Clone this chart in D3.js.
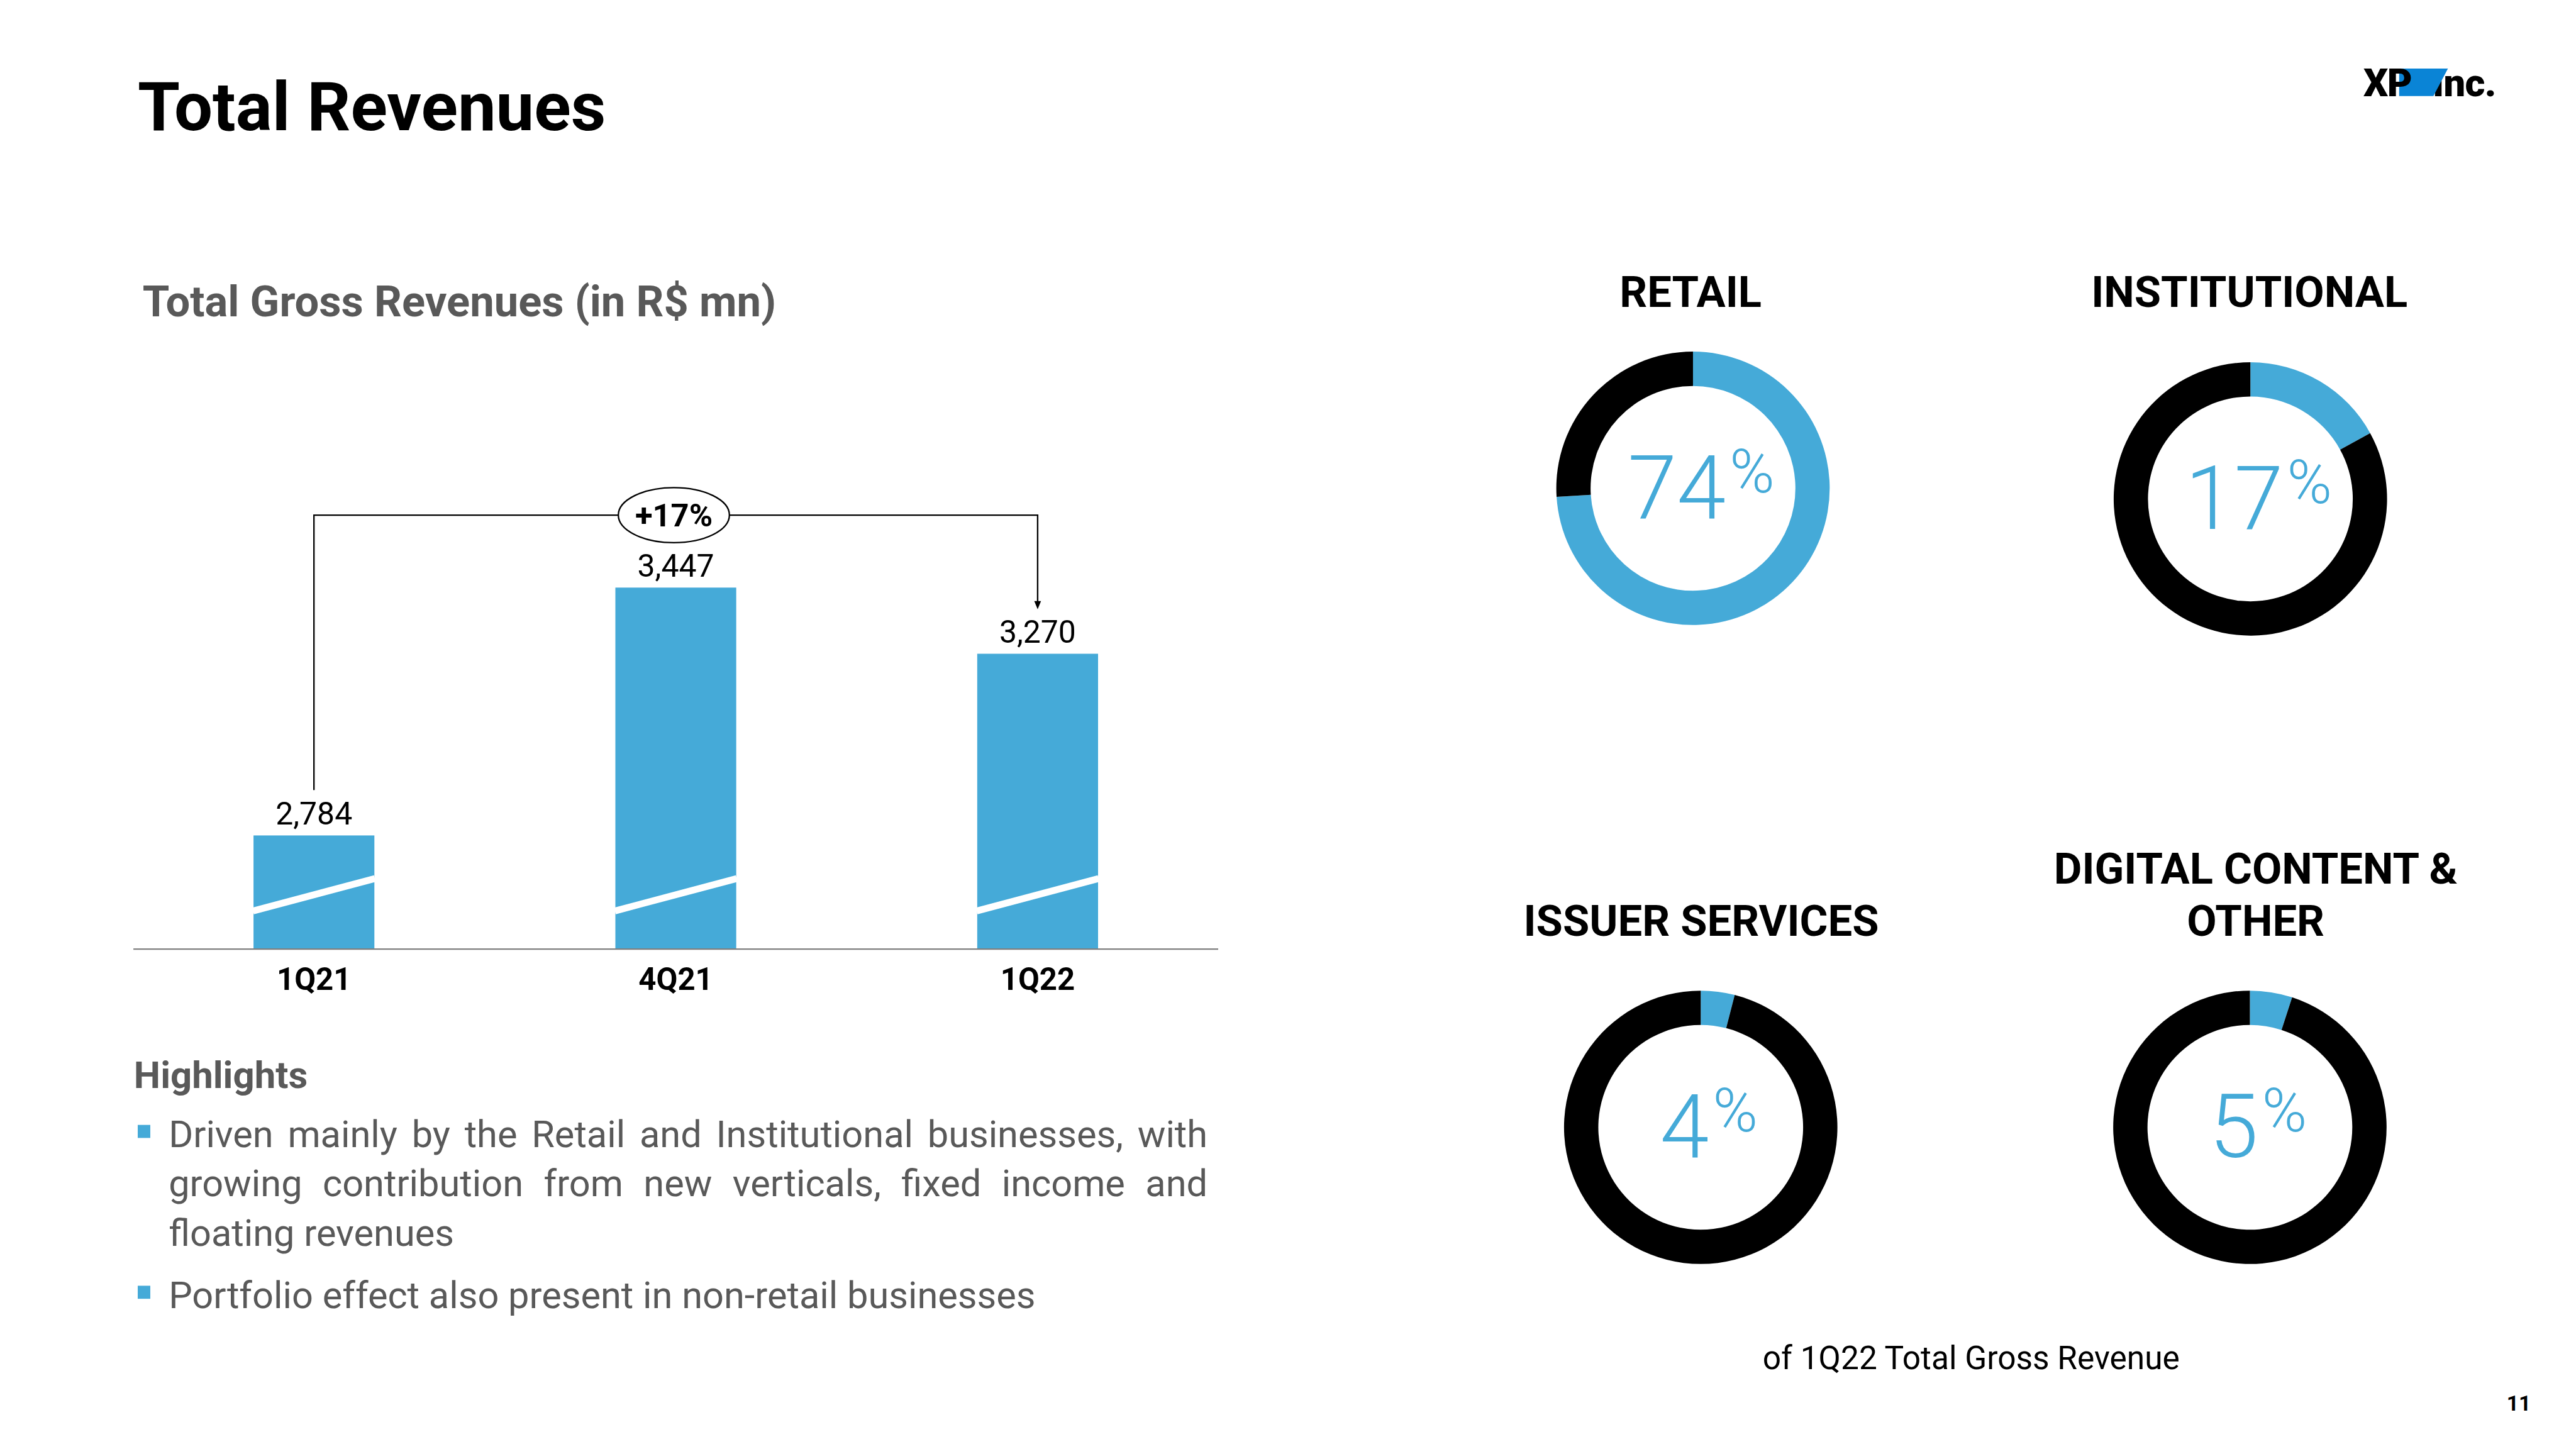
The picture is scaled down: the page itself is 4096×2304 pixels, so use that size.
<!DOCTYPE html>
<html>
<head>
<meta charset="utf-8">
<script src="https://cdn.jsdelivr.net/npm/d3@7"></script>
<style>
  html, body { margin: 0; padding: 0; background: #fff; }
  svg { display: block; }
  text { font-family: Roboto, "Noto Sans", sans-serif; }
</style>
</head>
<body>
<svg id="chart" width="4096" height="2304" viewBox="0 0 5333 3000"></svg>
<script>
// ---------- data ----------
const categories = ["1Q21", "4Q21", "1Q22"];
const revenues = [2784, 3447, 3270];
const growthLabel = "+17%";
const segments = ["RETAIL", "INSTITUTIONAL", "ISSUER SERVICES", "DIGITAL CONTENT & OTHER"];
const segmentTitleLines = [["RETAIL"], ["INSTITUTIONAL"], ["ISSUER SERVICES"], ["DIGITAL CONTENT &", "OTHER"]];
const segmentShares = [74, 17, 4, 5];
const highlightLines = [
  "Driven mainly by the Retail and Institutional businesses, with",
  "growing contribution from new verticals, fixed income and",
  "floating revenues",
  "Portfolio effect also present in non-retail businesses"
];

// ---------- setup ----------
const BLUE = "#45AAD8", GREY = "#595959";
const svg = d3.select("#chart");
svg.append("rect").attr("width", 5333).attr("height", 3000).attr("fill", "#fff");

// Title
svg.append("text").attr("x", 285).attr("y", 270)
  .attr("font-size", 141).attr("font-weight", 700).attr("fill", "#000")
  .text("Total Revenues");

// Logo
const logo = svg.append("g");
logo.append("text").attr("x", 5036).attr("y", 199).attr("font-size", 80).attr("font-weight", 900)
  .attr("letter-spacing", -1).text("Inc.");
logo.append("path").attr("d", "M4967,142 L5068,142 L5038,199 L4967,199 Z").attr("fill", "#0A84D6");
logo.append("text").attr("x", 4893).attr("y", 199).attr("font-size", 80).attr("font-weight", 900)
  .attr("letter-spacing", -2).text("XP");

// Subtitle
svg.append("text").attr("x", 295).attr("y", 655)
  .attr("font-size", 89.5).attr("font-weight", 700).attr("fill", GREY)
  .text("Total Gross Revenues (in R$ mn)");

// ---------- bar chart ----------
const baseY = 1965;
const x = d3.scaleBand().domain(categories).range([276, 2522]).paddingInner(0.666).paddingOuter(0.332);
const y = d3.scaleLinear().domain([2480, 3450]).range([baseY, baseY - 0.774 * 970]);

const bars = svg.append("g");
bars.selectAll("rect").data(revenues).join("rect")
  .attr("x", (d, i) => x(categories[i]))
  .attr("width", x.bandwidth())
  .attr("y", d => y(d))
  .attr("height", d => baseY - y(d))
  .attr("fill", BLUE);

// break marks
bars.selectAll("line.brk").data(revenues).join("line").attr("class", "brk")
  .attr("x1", (d, i) => x(categories[i]) - 1)
  .attr("x2", (d, i) => x(categories[i]) + x.bandwidth() + 1)
  .attr("y1", baseY - 79).attr("y2", baseY - 146)
  .attr("stroke", "#fff").attr("stroke-width", 14);

// axis
const xAxis = d3.axisBottom(x).tickSize(0).tickPadding(0);
const axG = svg.append("g").attr("transform", `translate(0,${baseY})`).call(xAxis);
axG.select(".domain").attr("stroke", "#7f7f7f").attr("stroke-width", 3)
  .attr("d", "M276,0H2522");
axG.selectAll(".tick text").attr("font-size", 64).attr("font-weight", 700).attr("fill", "#000")
  .attr("font-family", "Roboto").attr("dy", null).attr("y", 85);

// value labels
svg.append("g").selectAll("text").data(revenues).join("text")
  .attr("x", (d, i) => x(categories[i]) + x.bandwidth() / 2)
  .attr("y", d => y(d) - 23)
  .attr("text-anchor", "middle").attr("font-size", 65).attr("fill", "#000")
  .text(d => d3.format(",")(d));

// growth bracket
const cx0 = x(categories[0]) + x.bandwidth() / 2;
const cx2 = x(categories[2]) + x.bandwidth() / 2;
const cx1 = x(categories[1]) + x.bandwidth() / 2;
const brY = y(d3.max(revenues)) - 150;
const startY = y(revenues[0]) - 23 - 45 - 26;
const tipY = y(revenues[2]) - 23 - 45 - 24;
svg.append("path")
  .attr("d", `M${cx0},${startY}V${brY}H${cx2}V${tipY - 16}`)
  .attr("fill", "none").attr("stroke", "#000").attr("stroke-width", 3);
svg.append("path")
  .attr("d", `M${cx2 - 7},${tipY - 17}L${cx2 + 7},${tipY - 17}L${cx2},${tipY}Z`).attr("fill", "#000");
svg.append("ellipse").attr("cx", cx1 - 4).attr("cy", brY).attr("rx", 115).attr("ry", 57)
  .attr("fill", "#fff").attr("stroke", "#000").attr("stroke-width", 3);
svg.append("text").attr("x", cx1 - 4).attr("y", brY + 23).attr("text-anchor", "middle")
  .attr("font-size", 66).attr("font-weight", 700).attr("fill", "#000").text(growthLabel);

// ---------- highlights ----------
svg.append("text").attr("x", 277).attr("y", 2253)
  .attr("font-size", 78).attr("font-weight", 700).attr("fill", GREY).text("Highlights");

const lineY = [2375, 2477, 2579, 2708];
const justify = [true, true, false, false];
const textX = 349, rightX = 2500;
const hl = svg.append("g").attr("font-size", 77.5).attr("fill", GREY);
highlightLines.forEach((ln, i) => {
  if (!justify[i]) {
    hl.append("text").attr("x", textX).attr("y", lineY[i]).text(ln);
  } else {
    const words = ln.split(" ");
    const nodes = words.map(w => hl.append("text").attr("y", lineY[i]).text(w));
    const widths = nodes.map(n => n.node().getComputedTextLength());
    const total = d3.sum(widths);
    const gap = (rightX - textX - total) / (words.length - 1);
    let cx = textX;
    nodes.forEach((n, k) => { n.attr("x", cx); cx += widths[k] + gap; });
  }
});
// bullets
[0, 3].forEach(i => {
  hl.append("rect").attr("x", 285).attr("y", lineY[i] - 46).attr("width", 26).attr("height", 27).attr("fill", BLUE);
});

// ---------- donuts ----------
const donutCenters = [[3505, 1011], [4659, 1033], [3521, 2334], [4658, 2334]];
const titleCenters = [[3500, [636]], [4657, [636]], [3522, [1937]], [4670, [1830, 1937]]];
const pie = d3.pie().sort(null).value(d => d);
const arc = d3.arc().innerRadius(212).outerRadius(283);

segments.forEach((seg, i) => {
  const [cx, cy] = donutCenters[i];
  const g = svg.append("g").attr("transform", `translate(${cx},${cy})`);
  g.selectAll("path").data(pie([segmentShares[i], 100 - segmentShares[i]])).join("path")
    .attr("d", arc).attr("fill", (d, k) => k === 0 ? BLUE : "#000");
  const t = g.append("text").attr("x", 17).attr("y", 62).attr("text-anchor", "middle")
    .attr("fill", BLUE).attr("font-weight", 300);
  t.append("tspan").attr("font-size", 183).text(segmentShares[i]);
  t.append("tspan").attr("font-size", 126).attr("dx", 8).attr("dy", -54).text("%");

  const [tx, ys] = titleCenters[i];
  segmentTitleLines[i].forEach((line, k) => {
    svg.append("text").attr("x", tx).attr("y", ys[k]).attr("text-anchor", "middle")
      .attr("font-size", 89.5).attr("font-weight", 700).attr("fill", "#000").text(line);
  });
});

svg.append("text").attr("x", 4081).attr("y", 2834).attr("text-anchor", "middle")
  .attr("font-size", 67).attr("fill", "#000").text("of 1Q22 Total Gross Revenue");

svg.append("text").attr("x", 5240).attr("y", 2921).attr("text-anchor", "end")
  .attr("font-size", 44).attr("font-weight", 700).attr("fill", "#000").text("11");
</script>
</body>
</html>
